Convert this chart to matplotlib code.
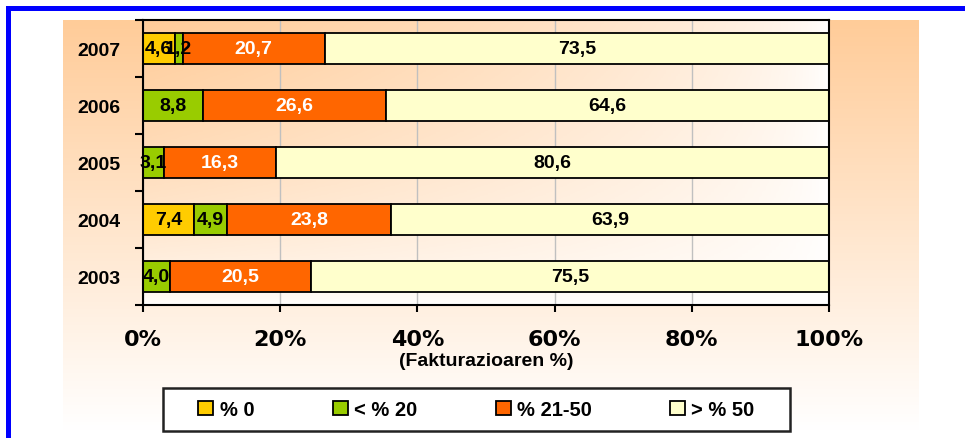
import numpy as np
import matplotlib
matplotlib.use("Agg")
import matplotlib.pyplot as plt
from matplotlib.colors import LinearSegmentedColormap
from matplotlib.patches import Rectangle

years = ["2003", "2004", "2005", "2006", "2007"]
series_names = ["% 0", "< % 20", "% 21-50", "> % 50"]
pct_0 = [0.0, 7.4, 0.0, 0.0, 4.6]
pct_lt20 = [4.0, 4.9, 3.1, 8.8, 1.2]
pct_21_50 = [20.5, 23.8, 16.3, 26.6, 20.7]
pct_gt50 = [75.5, 63.9, 80.6, 64.6, 73.5]
xticks = [0, 20, 40, 60, 80, 100]

colors = ["#FFCC00", "#99CC00", "#FF6600", "#FFFFCC"]
text_colors = ["black", "black", "white", "black"]
peach = LinearSegmentedColormap.from_list("peach", ["#FFFFFF", "#FFCC99"])

W, H = 965, 439
fig = plt.figure(figsize=(W / 100, H / 100), dpi=100)
fig.patch.set_facecolor("white")

# outer gradient panel
bg = fig.add_axes([63 / W, 1 - 432 / H, (918 - 63) / W, (432 - 21) / H])
grad = np.linspace(1, 0, 200).reshape(-1, 1)
bg.imshow(grad, aspect="auto", cmap=peach, vmin=0, vmax=1)
bg.axis("off")

# blue border
fig.add_artist(Rectangle((6 / W, 1 - 12 / H), 1, 5 / H, transform=fig.transFigure,
                         color="#0000FF", lw=0))
fig.add_artist(Rectangle((6 / W, 0), 5 / W, 1 - 7 / H, transform=fig.transFigure,
                         color="#0000FF", lw=0))

rect = [143 / W, 1 - 306 / H, (829 - 143) / W, (306 - 21) / H]

# plot area gradient, peach at top left fading to white
pa = fig.add_axes(rect)
gx, gy = np.meshgrid(np.linspace(1, 0, 200), np.linspace(1, 0, 200))
pa.imshow(gx ** 0.6 * gy ** 0.6, aspect="auto", cmap=peach, vmin=0, vmax=1)
pa.axis("off")

ax = fig.add_axes(rect)
ax.set_facecolor("none")

ypos = np.arange(len(years))
left = np.zeros(len(years))
for name, vals, c, tc in zip(series_names, [pct_0, pct_lt20, pct_21_50, pct_gt50],
                             colors, text_colors):
    vals = np.array(vals)
    ax.barh(ypos, vals, left=left, height=0.56, color=c, edgecolor="black",
            linewidth=1.3, label=name, zorder=3)
    for y, l, v in zip(ypos, left, vals):
        if v > 0:
            ax.text(l + v / 2, y, f"{v:.1f}".replace(".", ","), ha="center", va="center",
                    color=tc, fontsize=14, fontweight="bold",
                    family="Liberation Sans", zorder=4)
    left = left + vals

ax.set_xlim(0, 100)
ax.set_ylim(-0.5, 4.5)
ax.set_xticks(xticks)
ax.set_xticklabels([f"{t}%" for t in xticks], fontsize=16, fontweight="bold",
                   family="DejaVu Sans")
ax.tick_params(axis="x", length=5, width=1.5, pad=12)
ax.set_yticks(ypos)
ax.set_yticklabels(years, fontsize=14, fontweight="bold", family="Liberation Sans")
ax.set_yticks(np.arange(-0.5, 4.6, 1), minor=True)
ax.tick_params(axis="y", which="major", length=0, pad=16)
ax.tick_params(axis="y", which="minor", length=6, width=1.5)
ax.grid(axis="x", color="#C0C0C0", lw=1, zorder=1)
ax.set_axisbelow(True)
for s in ax.spines.values():
    s.set_linewidth(1.5)
    s.set_color("black")
    s.set_zorder(5)

fig.text(486 / W, 1 - 362 / H, "(Fakturazioaren %)", ha="center", va="center",
         fontsize=14, fontweight="bold", family="Liberation Sans")

# legend box
fig.add_artist(Rectangle((163 / W, 1 - 432 / H), 627 / W, 43 / H, transform=fig.transFigure,
                         facecolor="white", edgecolor="#222222", lw=1.8))
handles, labels = ax.get_legend_handles_labels()
leg = fig.legend(handles, labels, loc="center", bbox_to_anchor=(476.5 / W, 1 - 410.5 / H),
                 ncol=4, frameon=False, handlelength=0.75, handleheight=0.75,
                 handletextpad=0.3, columnspacing=3.9,
                 prop={"family": "Liberation Sans", "weight": "bold", "size": 14.5})

fig.savefig("out.png", dpi=100)
